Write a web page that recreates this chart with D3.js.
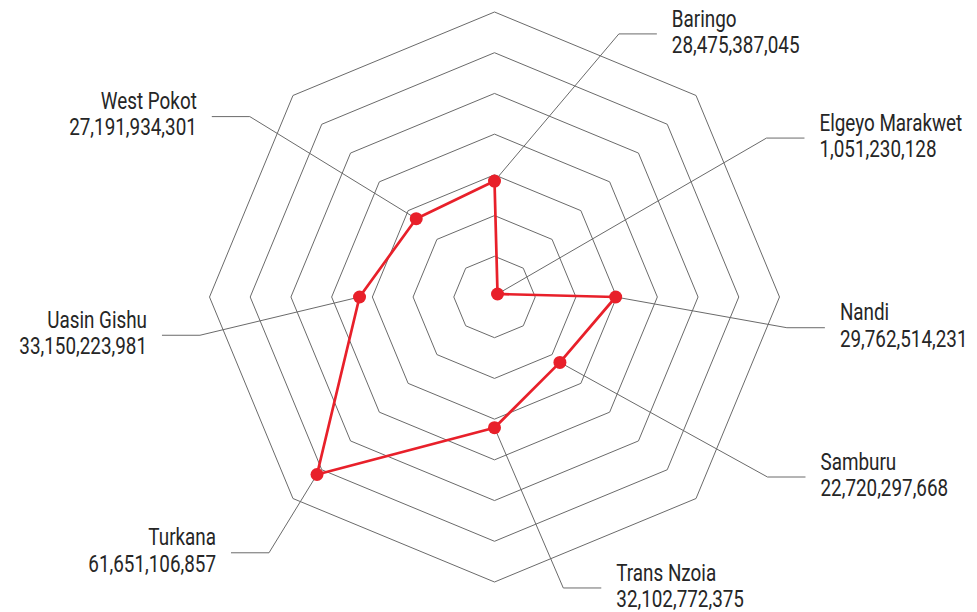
<!DOCTYPE html>
<html lang="en">
<head>
<meta charset="UTF-8">
<title>County radar</title>
<script src="https://d3js.org/d3.v7.min.js"></script>
<style>
  body { margin: 0; background: #fff; }
  text { font-family: Roboto, sans-serif; }
</style>
</head>
<body>
<div id="chart"></div>
<script>
// counties, clockwise starting at the top
var counties = ["Baringo", "Elgeyo Marakwet", "Nandi", "Samburu", "Trans Nzoia", "Turkana", "Uasin Gishu", "West Pokot"];
var amounts = [28475387045, 1051230128, 29762514231, 22720297668, 32102772375, 61651106857, 33150223981, 27191934301];
var gridLevels = [10e9, 20e9, 30e9, 40e9, 50e9, 60e9, 70e9];

// where each leader line bends: [degrees clockwise from top, distance from centre]
var labelSpots = [[25.3, 291], [59.7, 315], [96, 294], [123.4, 327], [166.7, 299], [221.4, 341], [262.6, 297], [306.4, 304]];

var width = 977, height = 612;
var cx = 494.5, cy = 297;
var red = "#e8202a", gridColor = "#6a6a6a";

var svg = d3.select("#chart").append("svg")
    .attr("width", width)
    .attr("height", height);

var g = svg.append("g").attr("transform", "translate(" + cx + "," + cy + ")");

var angle = d3.scaleLinear()
    .domain([0, counties.length])
    .range([0, 2 * Math.PI]);

var r = d3.scaleLinear()
    .domain([0, d3.max(gridLevels)])
    .range([0, 285]);

// octagon grid
var ring = d3.lineRadial()
    .angle(function(d, i) { return angle(i); })
    .radius(function(d) { return r(d); })
    .curve(d3.curveLinearClosed);

g.selectAll(".grid")
    .data(gridLevels)
    .enter().append("path")
    .attr("class", "grid")
    .attr("d", function(lv) { return ring(counties.map(function() { return lv; })); })
    .attr("fill", "none")
    .attr("stroke", gridColor)
    .attr("stroke-width", 1);

var pts = amounts.map(function(v, i) { return d3.pointRadial(angle(i), r(v)); });

// leader lines + labels
var fmt = d3.format(",");
var labels = g.selectAll(".lbl")
    .data(counties)
    .enter().append("g")
    .attr("class", "lbl");

labels.each(function(name, i) {
    var el = d3.pointRadial(labelSpots[i][0] * Math.PI / 180, labelSpots[i][1]);
    var right = el[0] > 0;
    var endX = el[0] + (right ? 38 : -38);
    d3.select(this).append("path")
        .attr("d", d3.line()([pts[i], el, [endX, el[1]]]))
        .attr("fill", "none")
        .attr("stroke", gridColor)
        .attr("stroke-width", 1);

    var t = d3.select(this).append("g")
        .attr("transform", "translate(" + (endX + (right ? 15 : -15)) + "," + el[1] + ") scale(0.82,1)")
        .append("text")
        .attr("text-anchor", right ? "start" : "end")
        .attr("fill", "#262626")
        .attr("font-size", 23);
    t.append("tspan").attr("x", 0).attr("y", -7.4).text(name);
    t.append("tspan").attr("x", 0).attr("y", 18.8).text(fmt(amounts[i]));
});

// data polygon
g.append("path")
    .datum(amounts)
    .attr("d", d3.lineRadial()
        .angle(function(d, i) { return angle(i); })
        .radius(function(d) { return r(d); })
        .curve(d3.curveLinearClosed))
    .attr("fill", "none")
    .attr("stroke", red)
    .attr("stroke-width", 2.7)
    .attr("stroke-linejoin", "round");

g.selectAll(".dot")
    .data(pts)
    .enter().append("circle")
    .attr("class", "dot")
    .attr("cx", function(d) { return d[0]; })
    .attr("cy", function(d) { return d[1]; })
    .attr("r", 6.5)
    .attr("fill", red);
</script>
</body>
</html>
